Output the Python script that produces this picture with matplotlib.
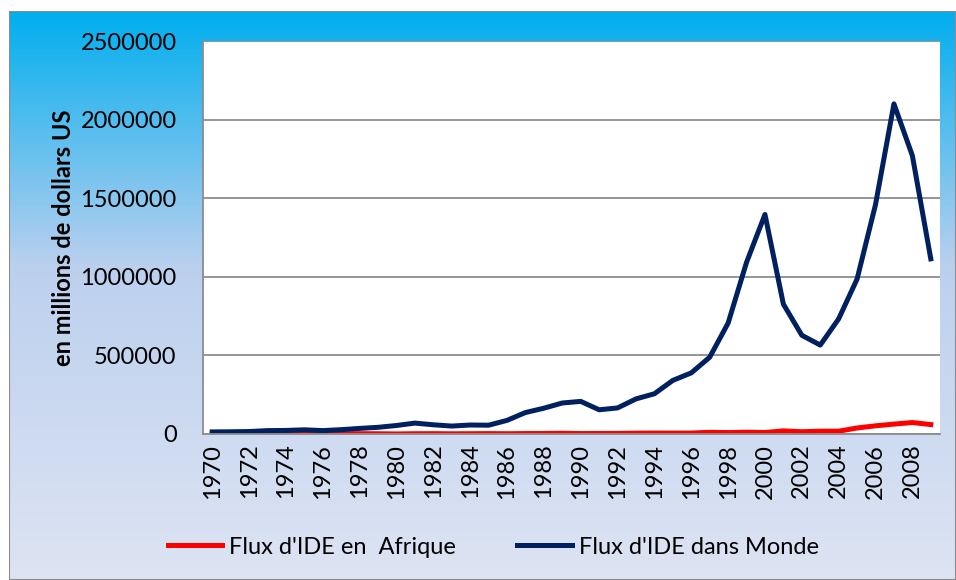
import numpy as np
import matplotlib
matplotlib.use("Agg")
import matplotlib.pyplot as plt
from matplotlib.colors import LinearSegmentedColormap
from matplotlib.patches import Rectangle

years = list(range(1970, 2010))
afrique = [1300, 1500, 1400, 1800, 2800, 1800, 1200, 1700, 2100, 1600,
           400, 1800, 2200, 1400, 1900, 2500, 1900, 2900, 3400, 4700,
           2800, 3500, 3800, 5400, 5900, 5700, 5900, 10900, 9000, 11600,
           9600, 19900, 14500, 18000, 18000, 38200, 52000, 63000, 73000, 60000]
monde = [13300, 14100, 15700, 21400, 22700, 26600, 21700, 27600, 35500, 42500,
         54100, 69400, 58600, 50500, 57200, 55900, 86600, 136600, 164100, 197200,
         207500, 154100, 165900, 223300, 256000, 341100, 388800, 488200, 705500, 1092000,
         1396500, 825900, 628100, 565700, 732400, 985800, 1459100, 2100000, 1770900, 1114200]
xticks = list(range(1970, 2009, 2))
yticks = [0, 500000, 1000000, 1500000, 2000000, 2500000]

plt.rcParams['font.family'] = ['Lato', 'DejaVu Sans']

fig = plt.figure(figsize=(9.56, 5.8), dpi=100)

# fond degrade du cadre
bg = fig.add_axes([9/956, 0, 947/956, 1 - 11/580], zorder=-10)
cmap = LinearSegmentedColormap.from_list(
    "bg", [(0, "#00aeef"), (0.45, "#bcd0ee"), (1, "#dde4f3")])
grad = np.linspace(0, 1, 256).reshape(-1, 1)
bg.imshow(grad, aspect="auto", cmap=cmap, extent=[0, 1, 0, 1], origin="upper")
bg.add_patch(Rectangle((0, 0), 1, 1, fill=False, edgecolor="#8c8c8c",
                       linewidth=1.5, transform=bg.transAxes))
bg.set_axis_off()

ax = fig.add_axes([203/956, 1 - 434/580, (940 - 203)/956, (434 - 41)/580])
ax.set_facecolor("white")
ax.plot(years, afrique, color="#ff0000", linewidth=3.6, label="Flux d'IDE en  Afrique")
ax.plot(years, monde, color="#002060", linewidth=3.6, label="Flux d'IDE dans Monde")

ax.set_xlim(1969.5, 2009.5)
ax.set_ylim(0, 2500000)
ax.set_yticks(yticks)
ax.set_yticklabels([str(v) for v in yticks], fontsize=17)
ax.set_xticks(xticks)
ax.set_xticklabels([str(y) for y in xticks], rotation=90, fontsize=17)
ax.tick_params(axis="y", length=0, pad=19)
ax.tick_params(axis="x", length=0, pad=7)
ax.yaxis.grid(True, color="#8c8c8c", linewidth=1.3)
ax.set_axisbelow(True)
for s in ["top", "right"]:
    ax.spines[s].set_visible(False)
ax.spines["left"].set_color("#8c8c8c")
ax.spines["bottom"].set_color("#8c8c8c")
ax.spines["left"].set_linewidth(1.3)
ax.spines["bottom"].set_linewidth(1.3)

ax.set_ylabel("en millions de dollars US", fontsize=17, fontweight="bold", labelpad=4)

fig.legend(loc="center", bbox_to_anchor=(0.516, 1 - 547/580), ncol=2, frameon=False,
           fontsize=17, handlelength=2.3, columnspacing=2.6, handletextpad=0.3)

plt.savefig("out.png", dpi=100)
plt.close()
